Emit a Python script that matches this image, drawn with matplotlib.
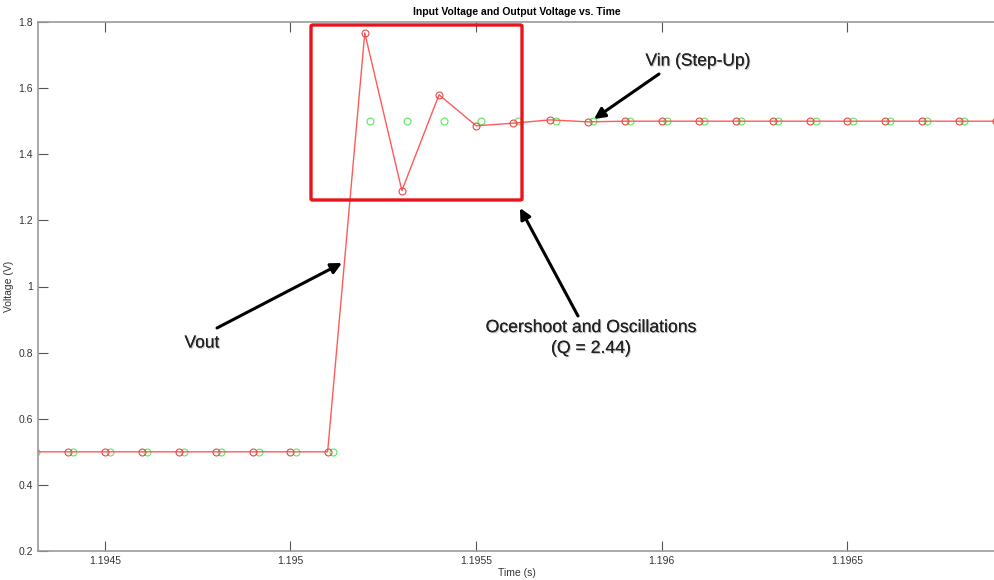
import numpy as np
import matplotlib.pyplot as plt
import matplotlib.patches as patches
import matplotlib.patheffects as pe
from matplotlib.ticker import FuncFormatter

plt.rcParams['font.family'] = ['Liberation Sans', 'DejaVu Sans']

# Vout samples (red)
t_out = [1.1943, 1.1944, 1.1945, 1.1946, 1.1947, 1.1948, 1.1949, 1.1950,
         1.1951, 1.1952, 1.1953, 1.1954, 1.1955, 1.1956, 1.1957, 1.1958,
         1.1959, 1.1960, 1.1961, 1.1962, 1.1963, 1.1964, 1.1965, 1.1966,
         1.1967, 1.1968, 1.1969, 1.1970]
v_out = [0.5, 0.5, 0.5, 0.5, 0.5, 0.5, 0.5, 0.5,
         0.5, 1.767, 1.290, 1.580, 1.486, 1.494, 1.504, 1.498,
         1.5, 1.5, 1.5, 1.5, 1.5, 1.5, 1.5, 1.5,
         1.5, 1.5, 1.5, 1.5]

# Vin samples (green), taken slightly after the Vout samples
t_in = [1.194314, 1.194414, 1.194514, 1.194614, 1.194714, 1.194814,
        1.194914, 1.195014, 1.195114, 1.195214, 1.195314, 1.195414,
        1.195514, 1.195614, 1.195714, 1.195814, 1.195914, 1.196014,
        1.196114, 1.196214, 1.196314, 1.196414, 1.196514, 1.196614,
        1.196714, 1.196814, 1.196914]
v_in = [0.5, 0.5, 0.5, 0.5, 0.5, 0.5, 0.5, 0.5, 0.5,
        1.5, 1.5, 1.5, 1.5, 1.5, 1.5, 1.5, 1.5, 1.5,
        1.5, 1.5, 1.5, 1.5, 1.5, 1.5, 1.5, 1.5, 1.5]

W, H = 995, 580
fig = plt.figure(figsize=(W / 100, H / 100), dpi=100)
ax = fig.add_axes([38 / W, 29 / H, 958 / W, 529 / H])


def px(x, y):
    # figure fraction from top-left pixel position
    return (x / W, 1 - y / H)


ax.plot(t_out, v_out, color='#ff5a5a', lw=1.0, marker='o', ms=5,
        mfc='none', mec='#e84848', mew=0.8, zorder=3)
ax.plot(t_in, v_in, ls='none', marker='o', ms=5, mfc='none',
        mec='#5ee65e', mew=0.8, zorder=2)

ax.set_xlim(1.19432, 1.19690)
ax.set_ylim(0.2, 1.8)
ax.set_yticks([0.2, 0.4, 0.6, 0.8, 1.0, 1.2, 1.4, 1.6, 1.8])
ax.set_xticks([1.1945, 1.195, 1.1955, 1.196, 1.1965])
fmt = FuncFormatter(lambda v, p: '%g' % round(v, 6))
ax.xaxis.set_major_formatter(fmt)
ax.yaxis.set_major_formatter(fmt)
ax.tick_params(direction='in', length=7, width=0.8, color='#555555',
               labelsize=7.5, labelcolor='#333333', top=True, right=False)
for s in ['left', 'bottom', 'top']:
    ax.spines[s].set_color('#9a9a9a')
    ax.spines[s].set_linewidth(1.2)
ax.spines['right'].set_visible(False)

ax.set_title('Input Voltage and Output Voltage vs. Time', fontsize=7.5,
             fontweight='bold', pad=5)
ax.set_xlabel('Time (s)', fontsize=7.5, color='#333333')
ax.set_ylabel('Voltage (V)', fontsize=7.5, color='#333333')
ax.xaxis.set_label_coords(0.5, -17 / 529)
ax.yaxis.set_label_coords(-24 / 958, 0.5)

# red box round the oscillations
x0, y0 = px(311, 200)
x1, y1 = px(522, 25)
fig.patches.append(patches.FancyBboxPatch(
    (x0, y0), x1 - x0, y1 - y0, boxstyle='round,pad=0,rounding_size=0.002',
    transform=fig.transFigure, fill=False, ec='#e8141c', lw=2.4, zorder=5))

shadow = [pe.withSimplePatchShadow(offset=(0.8, -0.8), shadow_rgbFace='#888888',
                                    alpha=0.5), pe.Normal()]
arrow = dict(arrowstyle='-|>', color='black', lw=2.2, mutation_scale=16,
             shrinkA=0, shrinkB=0)

ax.annotate('', xy=px(342, 263), xycoords='figure fraction',
            xytext=px(217, 328), textcoords='figure fraction', arrowprops=arrow)
fig.text(*px(202, 343), 'Vout', fontsize=12.5, ha='center', va='center',
         color='#222222', path_effects=shadow)

ax.annotate('', xy=px(520, 208), xycoords='figure fraction',
            xytext=px(578, 316), textcoords='figure fraction', arrowprops=arrow)
fig.text(*px(591, 338), 'Ocershoot and Oscillations\n(Q = 2.44)', fontsize=12.7,
         ha='center', va='center', color='#222222', linespacing=1.3,
         path_effects=shadow)

ax.annotate('', xy=px(594, 119), xycoords='figure fraction',
            xytext=px(659, 74), textcoords='figure fraction', arrowprops=arrow)
fig.text(*px(698, 61), 'Vin (Step-Up)', fontsize=12.5, ha='center', va='center',
         color='#222222', path_effects=shadow)

fig.savefig('out.png', dpi=100)
